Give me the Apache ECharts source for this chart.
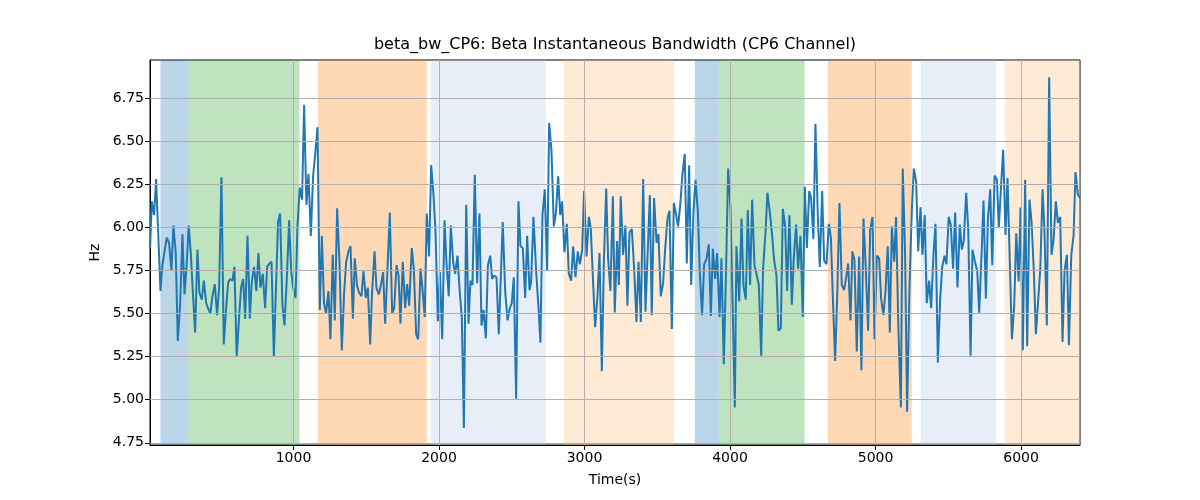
<!DOCTYPE html>
<html>
<head>
<meta charset="utf-8">
<script src="https://cdn.jsdelivr.net/npm/echarts@6/dist/echarts.min.js"></script>
<style>html,body{margin:0;padding:0;background:#fff}#c{width:1200px;height:500px}</style>
</head>
<body>
<div id="c"></div>
<script>
const times = [14.7,26,42,56,86,99,129,145,161,175,191,205,221,237,251,267,280,294,310,324,340,354,370,384,400,413,429,443,459,475,489,505,521,535,551,565,581,594,610,624,640,654,668,684,700,713,729,745,759,773,789,805,819,835,849,865,878,894,908,924,938,954,970,984,998,1014,1027,1043,1059,1073,1089,1103,1119,1135,1149,1165,1181,1195,1210,1224,1240,1254,1270,1284,1300,
1316,1332,1348,1362,1378,1392,1408,1421,1437,1451,1467,1481,1497,1511,1527,1540,1557,1570,1586,1600,1616,1630,1646,1662,1678,1692,1708,1722,1735,1751,1767,1781,1795,1813,1827,1843,1857,1873,1886,1902,1916,1932,1946,1962,1976,1992,2006,2022,2038,2051,2067,2081,2097,2111,2127,2141,2157,2171,2187,2203,2216,2230,2246,2262,2278,2292,2306,2322,2336,2352,2365,2379,2395,2411,
2438,2455,2471,2487,2500,2514,2530,2546,2560,2576,2592,2606,2622,2633,2649,2668,2684,2697,2711,2727,2743,2757,2773,2789,2803,2819,2833,2846,2862,2878,2892,2908,2922,2938,2954,2968,2984,2997,3014,3030,3043,3059,3073,3089,3103,3119,3133,3149,3162,3178,3195,3208,3224,
3236,3249,3265,3281,3295,3309,3325,3341,3357,3371,3387,3403,3419,3433,3449,3462,3478,3495,3508,3524,3540,3554,3570,3584,3600,3614,3630,3643,3659,3673,3689,3703,3719,3733,3749,3763,3779,3792,3808,3822,3838,3854,3868,3882,3898,3911,3928,3941,3957,3973,3987,4003,4019,4033,
4044,4063,4079,4092,4108,4122,4138,4152,4168,4184,4198,4214,4227,4244,4257,4273,4289,4303,4319,4333,4349,4363,4379,4392,4408,4425,4438,4454,4468,4484,4500,4514,4528,4544,4557,4573,4587,4603,4617,4633,4647,4663,4679,4693,4706,4722,4738,4752,4768,4784,4798,4812,4828,
4841,4855,4871,4887,4903,4917,4933,4949,4963,4979,4993,5009,5025,5038,5054,5068,5084,5098,5112,5128,5141,5157,5174,5187,5203,5217,5233,5249,5263,5279,5293,5309,5322,5338,5352,5368,5382,5398,5412,5428,5444,5458,5474,5487,5503,5517,5533,5547,5563,5579,5593,5606,5623,
5637,5653,5666,5683,5699,5712,5728,5742,5758,5772,5788,5802,5818,5834,5847,5863,5877,5893,5907,5923,5937,5953,5967,5983,5996,6012,6028,6042,6058,6072,6088,6102,6118,6132,6148,6161,6177,6193,6209,6223,6239,6253,6269,6285,6299,6315,6329,6345,6361,6374,6390,6405];
const values = [5.88,6.15,6.07,6.28,5.63,5.78,5.94,5.91,5.75,6.01,5.85,5.34,5.55,5.96,5.61,5.80,6.01,5.85,5.60,5.39,5.87,5.62,5.58,5.69,5.56,5.53,5.50,5.60,5.67,5.49,5.65,6.29,5.32,5.50,5.68,5.70,5.69,5.77,5.25,5.45,5.65,5.70,5.47,5.95,5.47,5.68,5.77,5.63,5.85,5.65,5.73,5.53,5.77,5.79,5.80,5.25,5.60,6.03,6.08,5.55,5.43,5.70,6.04,5.75,5.65,5.59,6.00,6.23,6.16,6.71,6.13,6.31,5.95,6.30,6.42,6.58,5.52,5.95,5.56,5.50,5.63,5.35,5.84,5.46,6.11,
5.80,5.285,5.62,5.80,5.86,5.89,5.47,5.82,5.66,5.62,5.60,5.745,5.59,5.65,5.32,5.62,5.86,5.65,5.61,5.66,5.74,5.44,5.76,6.085,5.50,5.53,5.78,5.72,5.44,5.80,5.53,5.67,5.545,5.88,5.76,5.38,5.35,5.76,5.645,5.48,6.08,5.83,6.36,6.19,5.975,5.455,5.74,5.35,6.04,5.80,5.60,6.01,5.80,5.73,5.835,5.645,5.47,4.835,6.13,5.44,5.69,5.665,6.305,5.675,6.08,5.43,5.52,5.355,5.78,5.835,5.70,5.72,5.71,5.38,
6.03,5.625,5.46,5.53,5.56,5.71,5.006,6.15,5.89,5.88,5.59,5.95,5.635,5.68,6.06,5.74,5.53,5.33,6.07,6.22,5.745,6.605,6.44,6.005,6.08,6.295,6.07,6.15,5.855,6.02,5.73,5.69,5.89,5.71,5.86,5.785,5.87,6.21,5.83,6.06,5.995,5.68,5.42,5.60,5.85,5.165,5.80,6.225,5.82,5.63,6.18,5.505,5.92,
5.665,6.18,5.84,6.01,5.545,5.97,5.99,5.76,5.45,5.80,5.45,6.28,5.51,5.83,6.185,5.49,6.17,5.91,5.96,5.60,5.675,5.87,6.05,6.095,5.41,6.14,6.07,6.005,6.14,6.31,6.425,5.79,6.36,5.665,6.095,6.275,6.09,5.74,5.49,5.785,5.815,5.90,5.485,5.875,5.70,5.85,5.48,5.82,5.205,5.76,6.34,6.11,5.51,4.955,
5.89,5.57,6.05,5.665,5.58,6.10,5.665,6.16,5.78,5.72,5.665,5.255,5.76,5.975,6.20,6.09,5.955,5.81,5.72,5.40,5.415,6.107,6.005,5.63,6.07,5.55,5.82,6.015,5.76,5.95,5.48,6.235,5.88,6.21,6.17,5.93,6.60,6.07,5.77,6.21,5.805,5.785,6.02,5.94,5.61,5.225,5.645,6.14,5.665,5.635,5.71,5.79,5.46,
5.86,5.81,5.28,5.83,5.17,6.05,5.76,5.40,5.985,6.06,5.35,5.835,5.82,5.587,5.49,5.625,5.89,5.39,6.005,5.80,6.06,5.41,4.955,6.34,5.84,4.93,5.645,6.09,6.34,6.265,5.86,6.115,5.84,6.07,5.56,5.69,5.53,5.84,6.02,5.215,5.58,5.77,5.835,5.785,6.06,6.015,5.76,6.085,5.65,6.015,5.87,5.92,6.20,
5.99,5.255,5.87,5.80,5.745,5.505,5.83,6.155,5.587,6.04,6.22,5.78,6.30,6.275,5.997,6.245,6.45,5.955,6.285,5.785,5.35,5.55,5.965,5.685,6.115,5.287,6.275,5.31,6.16,6.03,5.74,5.38,5.58,5.76,6.22,5.975,5.43,6.87,5.84,5.925,6.15,6.025,6.06,5.335,5.75,5.84,5.315,5.84,5.955,6.32,6.19,6.17];

const spanStarts = [86, 278, 1167, 1944, 2858, 3758, 3925, 4672, 5311, 5889];
const spanEnds   = [278, 1041, 1916, 2732, 3614, 3925, 4512, 5249, 5827, 6405];
const spanColors = ['rgba(31,119,180,0.3)','rgba(44,160,44,0.3)','rgba(255,127,14,0.3)','rgba(174,199,232,0.3)','rgba(255,187,120,0.3)',
                    'rgba(31,119,180,0.3)','rgba(44,160,44,0.3)','rgba(255,127,14,0.3)','rgba(174,199,232,0.3)','rgba(255,187,120,0.3)'];

const xTicks = [1000, 2000, 3000, 4000, 5000, 6000];
const yTicks = [4.75, 5.00, 5.25, 5.50, 5.75, 6.00, 6.25, 6.50, 6.75];

const xMin = 14, xMax = 6405, yMin = 4.737, yMax = 6.97;

const lineData = times.map((t, i) => [t, values[i]]);
const areas = spanStarts.map((s, i) => [{xAxis: s, itemStyle: {color: spanColors[i]}}, {xAxis: spanEnds[i]}]);
const gridLines = xTicks.map(v => ({xAxis: v})).concat(yTicks.map(v => ({yAxis: v})));

const chart = echarts.init(document.getElementById('c'), null, {renderer: 'canvas'});
const font = 'DejaVu Sans';
chart.setOption({
  animation: false,
  backgroundColor: '#fff',
  textStyle: {fontFamily: font},
  title: {
    text: 'beta_bw_CP6: Beta Instantaneous Bandwidth (CP6 Channel)',
    left: 615, top: 37, padding: 0, textAlign: 'center',
    textStyle: {fontFamily: font, fontSize: 16, fontWeight: 'normal', color: '#000'}
  },
  grid: {left: 150, right: 120, top: 60, bottom: 55, show: true, borderColor: '#000', borderWidth: 1, backgroundColor: 'transparent'},
  xAxis: {
    type: 'value', min: xMin, max: xMax,
    name: 'Time(s)', nameLocation: 'middle', nameGap: 28,
    nameTextStyle: {fontFamily: font, fontSize: 14, color: '#000'},
    axisLine: {show: true, onZero: false, lineStyle: {color: '#000', width: 1}},
    axisTick: {show: true, length: 5, customValues: xTicks, lineStyle: {color: '#000', width: 1}},
    axisLabel: {customValues: xTicks, color: '#000', fontSize: 14, fontFamily: font, margin: 6, formatter: v => String(Math.round(v))},
    splitLine: {show: false}
  },
  yAxis: {
    type: 'value', min: yMin, max: yMax,
    name: 'Hz', nameLocation: 'middle', nameGap: 46,
    nameTextStyle: {fontFamily: font, fontSize: 14, color: '#000'},
    axisLine: {show: true, onZero: false, lineStyle: {color: '#000', width: 1}},
    axisTick: {show: true, length: 5, customValues: yTicks, lineStyle: {color: '#000', width: 1}},
    axisLabel: {customValues: yTicks, color: '#000', fontSize: 14, fontFamily: font, margin: 6, formatter: v => v.toFixed(2)},
    splitLine: {show: false}
  },
  series: [
    {type: 'line', data: [], z: 1, silent: true, markArea: {silent: true, data: areas}},
    {type: 'line', data: [], z: 2, silent: true,
     markLine: {silent: true, symbol: ['none', 'none'], label: {show: false},
                lineStyle: {color: '#b0b0b0', width: 1, type: 'solid'}, data: gridLines}},
    {type: 'line', data: lineData, z: 3, showSymbol: false, symbol: 'none',
     lineStyle: {color: '#1f77b4', width: 2}, itemStyle: {color: '#1f77b4'}}
  ]
});
</script>
</body>
</html>
